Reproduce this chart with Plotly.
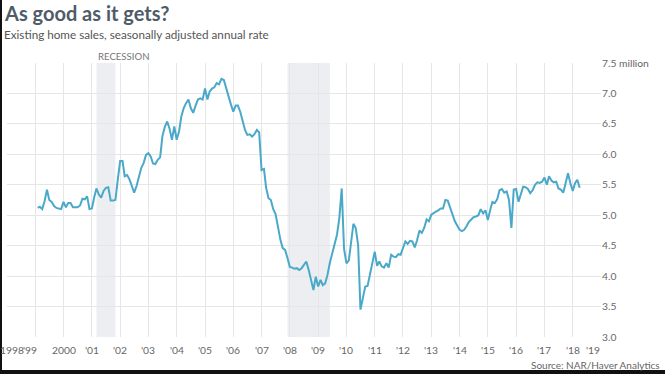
import pandas as pd
import plotly.graph_objects as go

# Existing home sales, SAAR (millions), monthly from Feb 1999
sales_1999 = [5.12, 5.14, 5.10, 5.23, 5.42, 5.25, 5.22, 5.15, 5.12, 5.11, 5.10]
sales_2000 = [5.22, 5.13, 5.20, 5.20, 5.13, 5.13, 5.13, 5.16, 5.27, 5.26, 5.31, 5.10]
sales_2001 = [5.11, 5.30, 5.44, 5.34, 5.29, 5.40, 5.45, 5.46, 5.24, 5.24, 5.25, 5.58]
sales_2002 = [5.89, 5.89, 5.64, 5.66, 5.59, 5.48, 5.37, 5.48, 5.62, 5.78, 5.86, 5.99]
sales_2003 = [6.02, 5.96, 5.85, 5.84, 5.91, 5.95, 6.30, 6.45, 6.54, 6.42, 6.24, 6.46]
sales_2004 = [6.24, 6.38, 6.62, 6.76, 6.84, 6.90, 6.76, 6.68, 6.80, 6.90, 6.92, 6.90]
sales_2005 = [7.08, 6.90, 7.03, 7.08, 7.10, 7.17, 7.15, 7.24, 7.22, 7.08, 6.95, 6.82]
sales_2006 = [6.70, 6.80, 6.80, 6.70, 6.55, 6.40, 6.32, 6.33, 6.29, 6.33, 6.40, 6.36]
sales_2007 = [5.74, 5.76, 5.45, 5.28, 5.25, 5.10, 5.02, 4.80, 4.60, 4.46, 4.43, 4.30]
sales_2008 = [4.15, 4.14, 4.12, 4.13, 4.10, 4.13, 4.18, 4.24, 4.10, 3.92, 3.77, 3.99]
sales_2009 = [3.83, 3.94, 3.85, 3.88, 4.02, 4.22, 4.37, 4.50, 4.68, 4.95, 5.44, 4.45]
sales_2010 = [4.21, 4.26, 4.59, 4.86, 4.79, 4.51, 3.45, 3.66, 3.83, 3.84, 4.02, 4.25]
sales_2011 = [4.40, 4.17, 4.24, 4.16, 4.14, 4.21, 4.14, 4.35, 4.32, 4.31, 4.36, 4.35]
sales_2012 = [4.46, 4.57, 4.53, 4.58, 4.57, 4.47, 4.59, 4.75, 4.71, 4.79, 4.93, 4.90]
sales_2013 = [5.01, 5.04, 5.06, 5.08, 5.11, 5.11, 5.25, 5.24, 5.12, 5.00, 4.90, 4.83]
sales_2014 = [4.76, 4.74, 4.76, 4.82, 4.89, 4.93, 4.97, 4.98, 5.00, 5.10, 5.03, 5.08]
sales_2015 = [4.92, 5.09, 5.22, 5.20, 5.26, 5.41, 5.43, 5.37, 5.39, 5.25, 4.79, 5.42]
sales_2016 = [5.43, 5.22, 5.33, 5.47, 5.46, 5.43, 5.36, 5.41, 5.50, 5.54, 5.53, 5.55]
sales_2017 = [5.62, 5.50, 5.64, 5.57, 5.54, 5.55, 5.44, 5.42, 5.37, 5.55, 5.69, 5.53]
sales_2018 = [5.40, 5.53, 5.58, 5.45]

series_start = "1999-02-01"

recessions = [("2001-03-01", "2001-11-01"), ("2007-12-01", "2009-06-01")]

tick_years = list(range(1998, 2020))
tick_labels = ["1998", "'99", "2000", "'01", "'02", "'03", "'04", "'05", "'06", "'07",
               "'08", "'09", "'10", "'11", "'12", "'13", "'14", "'15", "'16", "'17",
               "'18", "'19"]
y_ticks = [3.0, 3.5, 4.0, 4.5, 5.0, 5.5, 6.0, 6.5, 7.0, 7.5]
y_labels = ["3.0", "3.5", "4.0", "4.5", "5.0", "5.5", "6.0", "6.5", "7.0", "7.5 million"]

values = (sales_1999 + sales_2000 + sales_2001 + sales_2002 + sales_2003 + sales_2004 +
          sales_2005 + sales_2006 + sales_2007 + sales_2008 + sales_2009 + sales_2010 +
          sales_2011 + sales_2012 + sales_2013 + sales_2014 + sales_2015 + sales_2016 +
          sales_2017 + sales_2018)
dates = pd.date_range(series_start, periods=len(values), freq="MS")

W, H = 665, 374
ML, MR, MT, MB = 7, 64, 63, 37
PW, PH = W - ML - MR, H - MT - MB


def px(x):
    return (x - ML) / PW


def py(y):
    return (H - MB - y) / PH


# small horizontal nudges of crowded edge tick labels (pixels)
label_nudge = {1998: 4.5, 1999: -5, 2019: -8}

fig = go.Figure()
fig.add_trace(go.Scatter(x=dates, y=values, mode="lines",
                         line=dict(color="#4aa9c9", width=2), hoverinfo="skip"))

shapes = []
for a, b in recessions:
    shapes.append(dict(type="rect", xref="x", yref="paper", x0=a, x1=b, y0=0, y1=1,
                       fillcolor="#eceef1", line=dict(width=0), layer="below"))
# image frame (left and bottom dark edges)
shapes.append(dict(type="rect", xref="paper", yref="paper", x0=px(0), x1=px(2),
                   y0=py(H), y1=py(0), fillcolor="#111", line=dict(width=0)))
shapes.append(dict(type="rect", xref="paper", yref="paper", x0=px(0), x1=px(W),
                   y0=py(H), y1=py(370), fillcolor="#111", line=dict(width=0)))

annotations = [
    dict(text="<b>As good as it gets?</b>", x=px(2), y=py(13), xref="paper", yref="paper",
         xanchor="left", yanchor="middle", showarrow=False,
         font=dict(family="Lato", size=20, color="#505b68")),
    dict(text="Existing home sales, seasonally adjusted annual rate", x=px(2), y=py(34),
         xref="paper", yref="paper", xanchor="left", yanchor="middle", showarrow=False,
         font=dict(family="Lato", size=11.7, color="#555")),
    dict(text="RECESSION", x=px(96), y=py(57), xref="paper", yref="paper",
         xanchor="left", yanchor="middle", showarrow=False,
         font=dict(family="Lato", size=9.6, color="#777")),
    dict(text="Source: NAR/Haver Analytics", x=px(662), y=py(365), xref="paper",
         yref="paper", xanchor="right", yanchor="middle", showarrow=False,
         font=dict(family="Lato", size=10, color="#666")),
]
for yr, lab in zip(tick_years, tick_labels):
    annotations.append(dict(text=lab, x=f"{yr}-01-01", xref="x", y=py(350), yref="paper",
                            xanchor="center", yanchor="middle", showarrow=False,
                            xshift=label_nudge.get(yr, 0),
                            font=dict(family="Lato", size=10.3, color="#666")))

fig.update_layout(
    width=W, height=H, margin=dict(l=ML, r=MR, t=MT, b=MB),
    paper_bgcolor="white", plot_bgcolor="white", showlegend=False,
    font=dict(family="Lato", color="#666"),
    shapes=shapes, annotations=annotations,
    xaxis=dict(type="date", range=["1998-01-01", "2019-01-01"],
               tickvals=[f"{y}-01-01" for y in tick_years], showticklabels=False,
               showgrid=True, gridcolor="#e6e6e6", gridwidth=1, zeroline=False,
               showline=False, ticks=""),
    yaxis=dict(side="right", range=[3.0, 7.5], tickvals=y_ticks, ticktext=y_labels,
               showgrid=True, gridcolor="#e6e6e6", gridwidth=1, zeroline=False,
               showline=False, ticks="", tickfont=dict(size=10.3, color="#666")),
)

fig.write_html("out.html", config={"displayModeBar": False},
               post_script="document.body.style.margin='0';document.body.style.overflow='hidden';")
